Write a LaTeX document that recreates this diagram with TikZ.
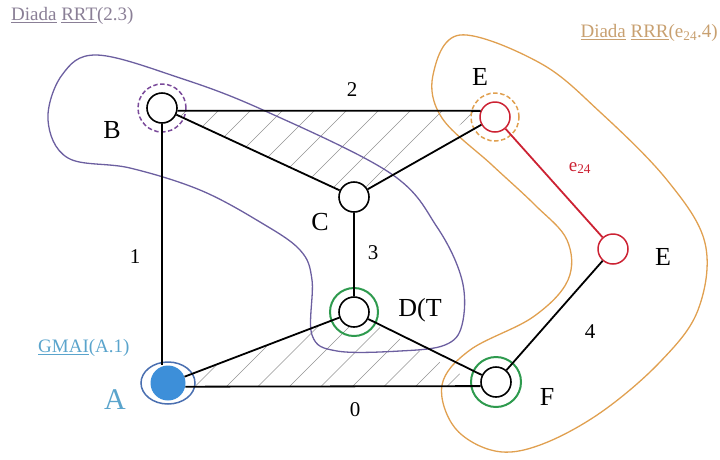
\documentclass[tikz,border=0pt]{standalone}
\usepackage{fontspec}
\setmainfont{Liberation Serif}
\usetikzlibrary{backgrounds}

\definecolor{linkred}{HTML}{CC2233}
\definecolor{pairgreen}{HTML}{2E9A4E}
\definecolor{groundblue}{HTML}{3D8FD9}
\definecolor{groundring}{HTML}{4A6FB0}
\definecolor{groundtext}{HTML}{5AA4CC}
\definecolor{rrtpurple}{HTML}{6C5FA0}
\definecolor{rrtdash}{HTML}{7A4A9A}
\definecolor{rrttext}{HTML}{8A7F96}
\definecolor{rrrorange}{HTML}{E0A050}
\definecolor{rrrtext}{HTML}{C8A070}

\begin{document}
\begin{tikzpicture}[x=1pt,y=-1pt,
  joint/.style={circle, draw=black, fill=white, line width=1.6pt, inner sep=0pt, minimum size=30pt},
  bar/.style={line width=1.8pt, black},
  lbl/.style={font=\fontsize{26}{26}\selectfont, inner sep=0pt},
  num/.style={font=\fontsize{21}{21}\selectfont, inner sep=0pt},
  caption/.style={font=\fontsize{19}{19}\selectfont, inner sep=0pt},
  hatchline/.style={gray!85, line width=0.6pt},
  group/.style={line width=1.3pt}]

\useasboundingbox (0,0) rectangle (720,459);

% joints
\node[joint] (B) at (162,108) {};
\node[joint, draw=linkred, line width=1.5pt] (E1) at (495,117) {};
\node[joint] (C) at (354,197) {};
\node[joint] (D) at (354,312) {};
\node[joint, draw=linkred, line width=1.5pt] (E2) at (613,249) {};
\node[joint] (F) at (496,382) {};
\node[circle, fill=groundblue, inner sep=0pt, minimum size=35pt] (A) at (168,383) {};

% rings marking the joints of each group
\draw[rrtdash, line width=1.5pt, dash pattern=on 4.5pt off 2.5pt] (B) circle[radius=24pt];
\draw[rrrorange, line width=1.5pt, dash pattern=on 4.5pt off 2.5pt] (E1) circle[radius=24pt];
\draw[pairgreen, line width=2pt] (D) circle[radius=24pt];
\draw[pairgreen, line width=2pt] (F) circle[radius=25pt];
\draw[groundring, line width=1.5pt] (A) ellipse[x radius=27pt, y radius=21pt];

% hatched rigid links and group outlines
\begin{scope}[on background layer]
  \begin{scope}
    \clip (B.-10) -- (E1.157) -- (C.center) -- (B.center) -- cycle;
    \foreach \c in {265,297,...,650}
      \draw[hatchline] (\c-220,220) -- (\c-60,60);
  \end{scope}
  \begin{scope}
    \clip (A.center) -- (D.center) -- (F.-165) -- (A.-12) -- cycle;
    \foreach \c in {550,581.5,...,900}
      \draw[hatchline] (\c-420,420) -- (\c-280,280);
  \end{scope}
  \draw[group, rrtpurple] plot[smooth cycle, tension=0.6] coordinates {
    (97,55) (180,78) (263,110) (390,173) (437,227) (462,280) (462,325)
    (445,345) (400,351) (337,351) (312,335) (312,280) (300,250) (260,222)
    (200,190) (130,168) (68,158) (48,120) (62,75)};
  \draw[group, rrrorange] plot[smooth cycle, tension=0.6] coordinates {
    (460,35) (540,63) (600,112) (667,180) (705,243) (698,310) (660,362)
    (600,413) (540,445) (495,451) (455,428) (442,385) (470,350) (533,317)
    (568,280) (567,240) (535,205) (492,165) (442,118) (433,75)};
\end{scope}

% links
\draw[bar] (B.-10) -- (E1.157);
\draw[bar] (B) -- (C);
\draw[bar] (C) -- (E1);
\draw[bar] (C) -- (D);
\draw[bar] (B.south) -- (B.south |- A.north);
\draw[bar] (A) -- (D);
\draw[bar] (A.-12) -- (F.-165);
\draw[bar] (D) -- (F);
\draw[bar] (F) -- (E2);
\draw[line width=1.8pt, linkred] (E1) -- (E2);

% joint and link labels
\node[lbl] (lB) at (112,130) {B};
\node[lbl] (lC) at (320,222) {C};
\node[lbl] (lD) at (420,310) {D(T};
\node[lbl] (lE1) at (480,77) {E};
\node[lbl] (lE2) at (663,257) {E};
\node[lbl] (lF) at (547,397) {F};
\node[lbl, text=groundtext, font=\fontsize{30}{30}\selectfont] (lA) at (115,400) {A};
\node[num] (n0) at (355,410) {0};
\node[num] (n1) at (135,257) {1};
\node[num] (n2) at (352,90) {2};
\node[num] (n3) at (373,253) {3};
\node[num] (n4) at (590,332) {4};
\node[inner sep=0pt, text=linkred, font=\fontsize{19}{19}\selectfont] (le) at (580,168) {e\textsubscript{24}};

% group captions
\node[caption, text=rrttext, anchor=west] (t1) at (11,16) {\underline{Diada} \underline{RRT}(2.3)};
\node[caption, text=rrrtext, anchor=east] (t2) at (718,33) {\underline{Diada} \underline{RRR}(e\textsubscript{24}.4)};
\node[caption, text=groundtext, anchor=west] (t3) at (38,348) {\underline{GMAI}(A.1)};
\end{tikzpicture}
\end{document}
